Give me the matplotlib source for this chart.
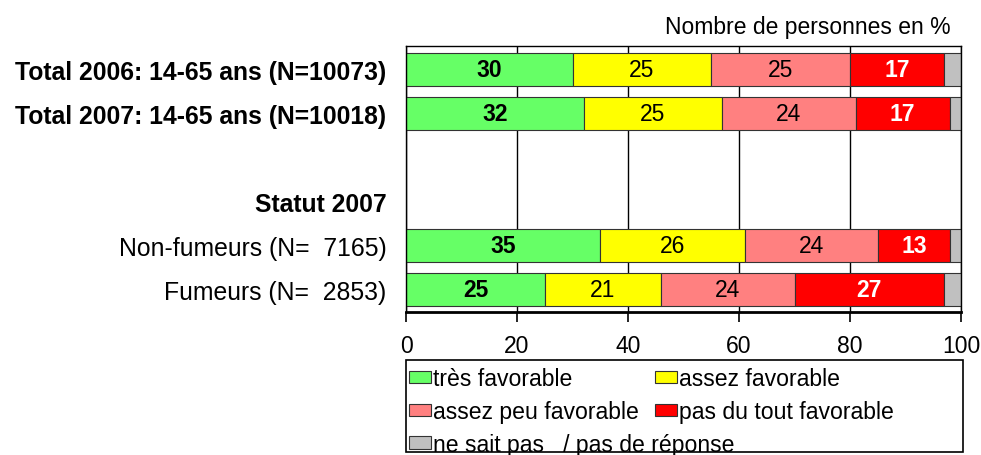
import matplotlib
matplotlib.use("Agg")
import matplotlib.pyplot as plt
from matplotlib.patches import Rectangle
import numpy as np

plt.rcParams['font.family'] = ['Liberation Sans', 'DejaVu Sans']

# rows from top to bottom (empty strings are spacer rows)
rows = ["Total 2006: 14-65 ans (N=10073)", "Total 2007: 14-65 ans (N=10018)",
        "", "Statut 2007", "Non-fumeurs (N=  7165)", "Fumeurs (N=  2853)"]
bold_rows = [True, True, False, True, False, False]
bar_rows = [0, 1, 4, 5]

tres_fav = [30, 32, 35, 25]
assez_fav = [25, 25, 26, 21]
assez_peu = [25, 24, 24, 24]
pas_du_tout = [17, 17, 13, 27]
ne_sait_pas = [3, 2, 2, 3]

series = [tres_fav, assez_fav, assez_peu, pas_du_tout, ne_sait_pas]
names = ["très favorable", "assez favorable", "assez peu favorable",
         "pas du tout favorable", "ne sait pas   / pas de réponse"]
colors = ["#66FF66", "#FFFF00", "#FF8080", "#FF0000", "#C0C0C0"]
txt_colors = ["black", "black", "black", "white", None]
txt_bold = [True, False, False, True, False]

FS = 16.5
FS_LAB = 17.8
FS_LEG = 16.6

fig = plt.figure(figsize=(9.81, 4.56), dpi=100)
ax = fig.add_axes([0.4139, 0.3136, 0.5657, 0.5834])

ax.xaxis.grid(True, color="black", lw=1)
ax.set_axisbelow(True)

left = np.zeros(len(bar_rows))
handles = []
for vals, name, col, tc, tb in zip(series, names, colors, txt_colors, txt_bold):
    vals = np.array(vals, dtype=float)
    bars = ax.barh(bar_rows, vals, left=left, height=0.75, color=col,
                   edgecolor="#333333", lw=0.8, label=name)
    handles.append(bars)
    if tc is not None:
        for y, l, v in zip(bar_rows, left, vals):
            ax.text(l + v / 2, y, f"{v:.0f}", ha="center", va="center",
                    fontsize=FS, color=tc, fontweight="bold" if tb else "normal")
    left += vals

ax.set_xlim(0, 100)
ax.set_ylim(len(rows) - 0.48, -0.53)
ax.set_xticks([0, 20, 40, 60, 80, 100])
ax.tick_params(axis="x", labelsize=FS, length=7, width=1.2, direction="out", pad=9)
ax.set_yticks(range(len(rows)))
ax.set_yticklabels(rows, fontsize=FS_LAB)
for lab, b in zip(ax.get_yticklabels(), bold_rows):
    if b:
        lab.set_fontweight("bold")
ax.tick_params(axis="y", length=0, pad=14)
for s in ax.spines.values():
    s.set_color("black")
    s.set_linewidth(1)
ax.spines["bottom"].set_linewidth(2)

fig.text(0.969, 0.94, "Nombre de personnes en %", ha="right", va="center", fontsize=FS)

# legend box drawn separately so it spans the plot width
fig.patches.append(Rectangle((0.4139, 0.0066), 0.5678, 0.2018, transform=fig.transFigure,
                             fill=False, edgecolor="black", lw=1.2))
leg_kw = dict(fontsize=FS_LEG, frameon=False, handlelength=0.95, handleheight=0.45,
              handletextpad=0.1, columnspacing=0.7, borderpad=0.13,
              labelspacing=0.45, borderaxespad=0)
order = [0, 2, 1, 3]
leg1 = fig.legend([handles[i] for i in order], [names[i] for i in order], ncol=2,
                  loc="center left", bbox_to_anchor=(0.4139, 0.131), **leg_kw)
leg2 = fig.legend([handles[4]], [names[4]], loc="center left",
                  bbox_to_anchor=(0.4139, 0.024), **leg_kw)

fig.savefig("out.png", dpi=100)
